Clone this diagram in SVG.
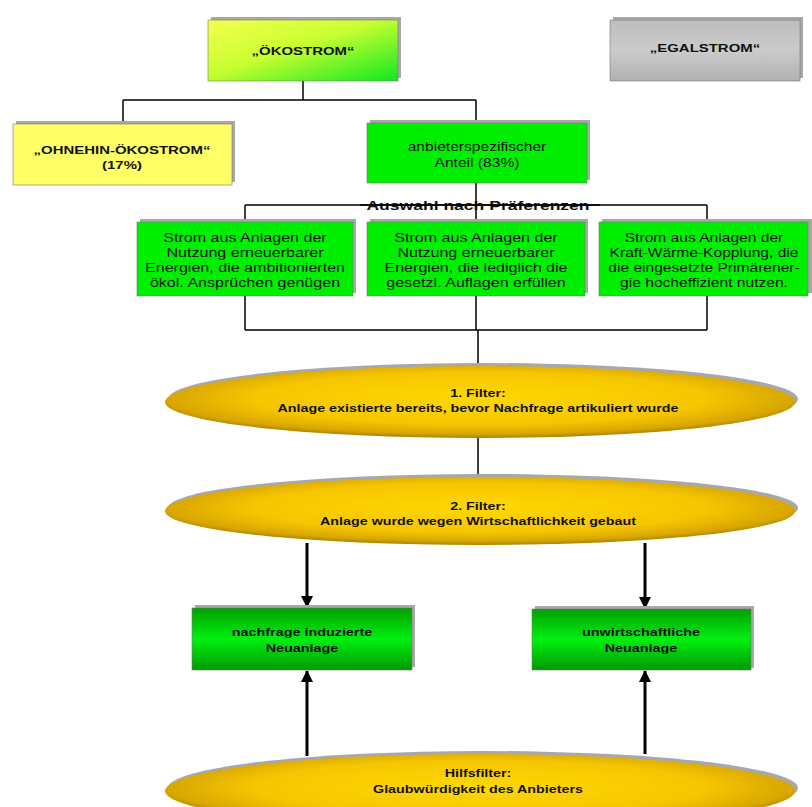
<svg xmlns="http://www.w3.org/2000/svg" width="812" height="807" viewBox="0 0 812 807">
<defs>
<linearGradient id="gOeko" x1="0" y1="0" x2="1" y2="1">
<stop offset="0" stop-color="#f4ff50"/>
<stop offset="0.45" stop-color="#c8ff30"/>
<stop offset="1" stop-color="#10e820"/>
</linearGradient>
<linearGradient id="gGray" x1="0" y1="0" x2="0" y2="1">
<stop offset="0" stop-color="#bdbdbd"/>
<stop offset="0.5" stop-color="#cbcbcb"/>
<stop offset="1" stop-color="#b0b0b0"/>
</linearGradient>
<linearGradient id="gGreenV" x1="0" y1="0" x2="0" y2="1">
<stop offset="0" stop-color="#00a000"/>
<stop offset="0.5" stop-color="#00f010"/>
<stop offset="1" stop-color="#009800"/>
</linearGradient>
<radialGradient id="gGold" cx="0.5" cy="0.45" r="0.55">
<stop offset="0" stop-color="#ffd800"/>
<stop offset="0.65" stop-color="#f6c600"/>
<stop offset="0.9" stop-color="#d8a600"/>
<stop offset="1" stop-color="#a88200"/>
</radialGradient>
<marker id="ah" markerUnits="userSpaceOnUse" markerWidth="12" markerHeight="12" refX="11" refY="6" orient="auto">
<path d="M0,0 L12,6 L0,12 z" fill="#000"/>
</marker>
</defs>
<style>
.sh{fill:#a8a8a8;}
.box{stroke:#777;stroke-width:0.6;}
.t{font-family:'Liberation Sans',Arial,sans-serif;text-anchor:middle;fill:#111;}
.b{font-weight:bold;}
.s115{font-size:11.5px;}
.s12{font-size:12px;}
.s11{font-size:11px;}
.s135{font-size:13.5px;}
.ln{stroke:#000;stroke-width:1.5;fill:none;}
.ar{stroke:#000;stroke-width:3;fill:none;marker-end:url(#ah);}
</style>

<g id="connectors">
<path class="ln" d="M303,81 V100 M123,100 H476 M123,100 V124 M476,100 V123"/>
<path class="ln" d="M476,183 V222 M245,205 H707 M245,205 V222 M707,205 V222"/>
<path class="ln" d="M245,296 V330 M476,296 V330 M707,296 V330 M245,330 H707 M478,330 V366"/>
<path class="ln" d="M478,438 V478"/>
<path class="ar" d="M307,543 V607"/>
<path class="ar" d="M645,543 V608"/>
<path class="ar" d="M307,756 V671"/>
<path class="ar" d="M645,754 V671"/>
</g>

<g id="oekostrom">
<rect class="sh" x="211" y="17" width="190" height="61"/>
<rect class="box" x="208" y="20" width="190" height="61" fill="url(#gOeko)"/>
<text class="t b s115" transform="translate(303,55) scale(1.3,1)">„ÖKOSTROM“</text>
</g>

<g id="egalstrom">
<rect class="sh" x="613" y="17" width="190" height="61"/>
<rect class="box" x="610" y="20" width="190" height="61" fill="url(#gGray)"/>
<text class="t b s115" transform="translate(705,52) scale(1.3,1)">„EGALSTROM“</text>
</g>

<g id="ohnehin">
<rect class="sh" x="16" y="121" width="219" height="61"/>
<rect class="box" x="13" y="124" width="219" height="61" fill="#ffff66"/>
<text class="t b s115" transform="translate(122,154) scale(1.3,1)">„OHNEHIN-ÖKOSTROM“</text>
<text class="t b s115" transform="translate(122,169) scale(1.3,1)">(17%)</text>
</g>

<g id="anbieter">
<rect class="sh" x="370" y="120" width="220" height="60"/>
<rect class="box" x="367" y="123" width="220" height="60" fill="#00ee00"/>
<text class="t s12" transform="translate(477,151) scale(1.3,1)">anbieterspezifischer</text>
<text class="t s12" transform="translate(477,167) scale(1.3,1)">Anteil (83%)</text>
</g>

<g id="auswahl">
<text class="t b s135" transform="translate(478,210) scale(1.3,1)">Auswahl nach Präferenzen</text>
<path class="ln" d="M360,205 H600"/>
</g>

<g id="box-eeg-ambitioniert">
<rect class="sh" x="140" y="219" width="216" height="74"/>
<rect class="box" x="137" y="222" width="216" height="74" fill="#00ee00"/>
<text class="t s12" transform="translate(245,242) scale(1.34,1)">Strom aus Anlagen der</text>
<text class="t s12" transform="translate(245,257) scale(1.34,1)">Nutzung erneuerbarer</text>
<text class="t s12" transform="translate(245,272) scale(1.34,1)">Energien, die ambitionierten</text>
<text class="t s12" transform="translate(245,287) scale(1.34,1)">ökol. Ansprüchen genügen</text>
</g>

<g id="box-eeg-gesetzlich">
<rect class="sh" x="370" y="219" width="218" height="74"/>
<rect class="box" x="367" y="222" width="218" height="74" fill="#00ee00"/>
<text class="t s12" transform="translate(476,242) scale(1.34,1)">Strom aus Anlagen der</text>
<text class="t s12" transform="translate(476,257) scale(1.34,1)">Nutzung erneuerbarer</text>
<text class="t s12" transform="translate(476,272) scale(1.34,1)">Energien, die lediglich die</text>
<text class="t s12" transform="translate(476,287) scale(1.34,1)">gesetzl. Auflagen erfüllen</text>
</g>

<g id="box-kwk">
<rect class="sh" x="602" y="219" width="210" height="74"/>
<rect class="box" x="599" y="222" width="209" height="74" fill="#00ee00"/>
<text class="t s12" transform="translate(704,242) scale(1.3,1)">Strom aus Anlagen der</text>
<text class="t s12" transform="translate(704,257) scale(1.3,1)">Kraft-Wärme-Kopplung, die</text>
<text class="t s12" transform="translate(704,272) scale(1.3,1)">die eingesetzte Primärener-</text>
<text class="t s12" transform="translate(704,287) scale(1.3,1)">gie hocheffizient nutzen.</text>
</g>

<g id="filter1">
<ellipse class="sh" cx="483" cy="399" rx="315" ry="36"/>
<ellipse cx="480" cy="402" rx="315" ry="36" fill="url(#gGold)"/>
<text class="t b s11" transform="translate(478,397) scale(1.3,1)">1. Filter:</text>
<text class="t b s11" transform="translate(478,412) scale(1.3,1)">Anlage existierte bereits, bevor Nachfrage artikuliert wurde</text>
</g>

<g id="filter2">
<ellipse class="sh" cx="483" cy="508" rx="315" ry="34"/>
<ellipse cx="480" cy="511" rx="315" ry="34" fill="url(#gGold)"/>
<text class="t b s11" transform="translate(478,510) scale(1.3,1)">2. Filter:</text>
<text class="t b s11" transform="translate(478,525) scale(1.3,1)">Anlage wurde wegen Wirtschaftlichkeit gebaut</text>
</g>

<g id="nachfrage">
<rect class="sh" x="195" y="605" width="220" height="62"/>
<rect class="box" x="192" y="608" width="220" height="62" fill="url(#gGreenV)"/>
<text class="t b s115" transform="translate(302,636) scale(1.25,1)">nachfrage induzierte</text>
<text class="t b s115" transform="translate(302,652) scale(1.25,1)">Neuanlage</text>
</g>

<g id="unwirtschaftlich">
<rect class="sh" x="535" y="606" width="219" height="62"/>
<rect class="box" x="532" y="609" width="219" height="61" fill="url(#gGreenV)"/>
<text class="t b s115" transform="translate(641,636) scale(1.25,1)">unwirtschaftliche</text>
<text class="t b s115" transform="translate(641,652) scale(1.25,1)">Neuanlage</text>
</g>

<g id="hilfsfilter">
<ellipse class="sh" cx="483" cy="788" rx="315" ry="37"/>
<ellipse cx="480" cy="791" rx="315" ry="37" fill="url(#gGold)"/>
<text class="t b s11" transform="translate(478,777) scale(1.3,1)">Hilfsfilter:</text>
<text class="t b s11" transform="translate(478,793) scale(1.3,1)">Glaubwürdigkeit des Anbieters</text>
</g>
</svg>
